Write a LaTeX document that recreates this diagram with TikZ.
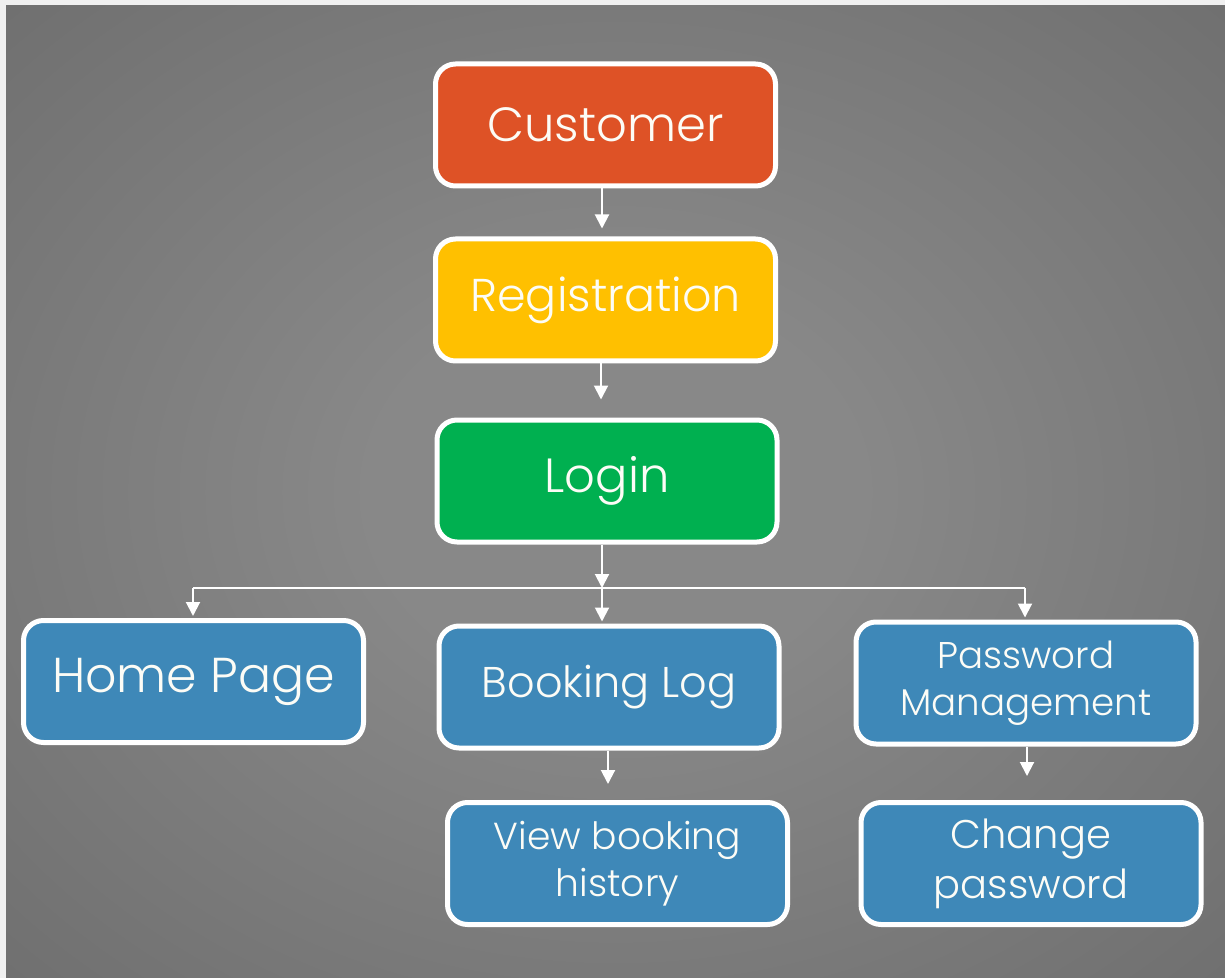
\documentclass[tikz,border=0pt]{standalone}
\usepackage{fontspec}
\IfFontExistsTF{Poppins Light}{\setmainfont{Poppins Light}}{\setmainfont{Poppins}}
\usetikzlibrary{arrows.meta}
\definecolor{cOrange}{RGB}{222,82,38}
\definecolor{cYellow}{RGB}{255,192,0}
\definecolor{cGreen}{RGB}{0,176,80}
\definecolor{cBlue}{RGB}{62,136,184}
\definecolor{bgIn}{RGB}{136,136,136}
\definecolor{bgMid}{RGB}{98,98,98}
\definecolor{bgOut}{RGB}{84,84,84}
\definecolor{marg}{RGB}{240,240,240}
\definecolor{txt}{RGB}{252,252,246}
\pgfdeclareradialshading{bgshade}{\pgfpoint{0bp}{0bp}}{color(0bp)=(bgIn); color(10bp)=(bgIn); color(50bp)=(bgMid); color(72bp)=(bgOut); color(100bp)=(bgOut)}
\tikzset{
  box/.style={draw=white, line width=2.5pt, rounded corners=10pt, text=txt,
    align=center, minimum width=170pt, minimum height=61pt, inner sep=0pt},
  conn/.style={draw=white, line width=1pt, -{Triangle[width=7pt,length=7pt]}},
  plain/.style={draw=white, line width=1pt},
}
\newcommand{\fs}[1]{\fontsize{#1}{1.25\dimexpr#1pt\relax}\selectfont}
\begin{document}
\begin{tikzpicture}[x=0.5pt,y=-0.5pt]
\useasboundingbox (0,0) rectangle (1225,978);
\fill[marg] (0,0) rectangle (1225,978);
\shade[shading=bgshade] (6,6) rectangle (1225,978);

\node[box, fill=cOrange, font=\fs{24}] (cust) at (605.5,125) {Customer};
\node[box, fill=cYellow, font=\fs{23}] (reg) at (605.5,300) {Registration};
\node[box, fill=cGreen, font=\fs{24}] (login) at (607,481) {Login};
\node[box, fill=cBlue, font=\fs{24.5}] (home) at (193.5,681.5) {Home Page};
\node[box, fill=cBlue, font=\fs{21.5}] (book) at (609,687) {Booking Log};
\node[box, fill=cBlue, font=\fs{18.6}] (pwd) at (1026,683) {Password\\Management};
\node[box, fill=cBlue, font=\fs{18.8}] (view) at (617.5,863.5) {View booking\\history};
\node[box, fill=cBlue, font=\fs{20}] (chg) at (1031,863.5) {Change\\password};

\coordinate (jc) at (602,588);
\coordinate (jl) at (193,588);
\coordinate (jr) at (1025,588);

\draw[conn, shorten >=4pt] (cust.south -| 602,0) -- (reg.north -| 602,0);
\draw[conn, shorten >=9pt] (reg.south -| 601,0) -- (login.north -| 601,0);
\draw[conn] (login.south -| jc) -- (jc);
\draw[plain] (jl) -- (jr);
\draw[conn, shorten >=1pt] (jl) -- (home.north -| jl);
\draw[conn, shorten >=1pt] (jc) -- (book.north -| jc);
\draw[conn, shorten >=1pt] (jr) -- (pwd.north -| jr);
\draw[conn, shorten >=8pt] (book.south -| 608,0) -- (view.north -| 608,0);
\draw[conn, shorten >=12pt] (pwd.south -| 1027,0) -- (chg.north -| 1027,0);
\end{tikzpicture}
\end{document}
